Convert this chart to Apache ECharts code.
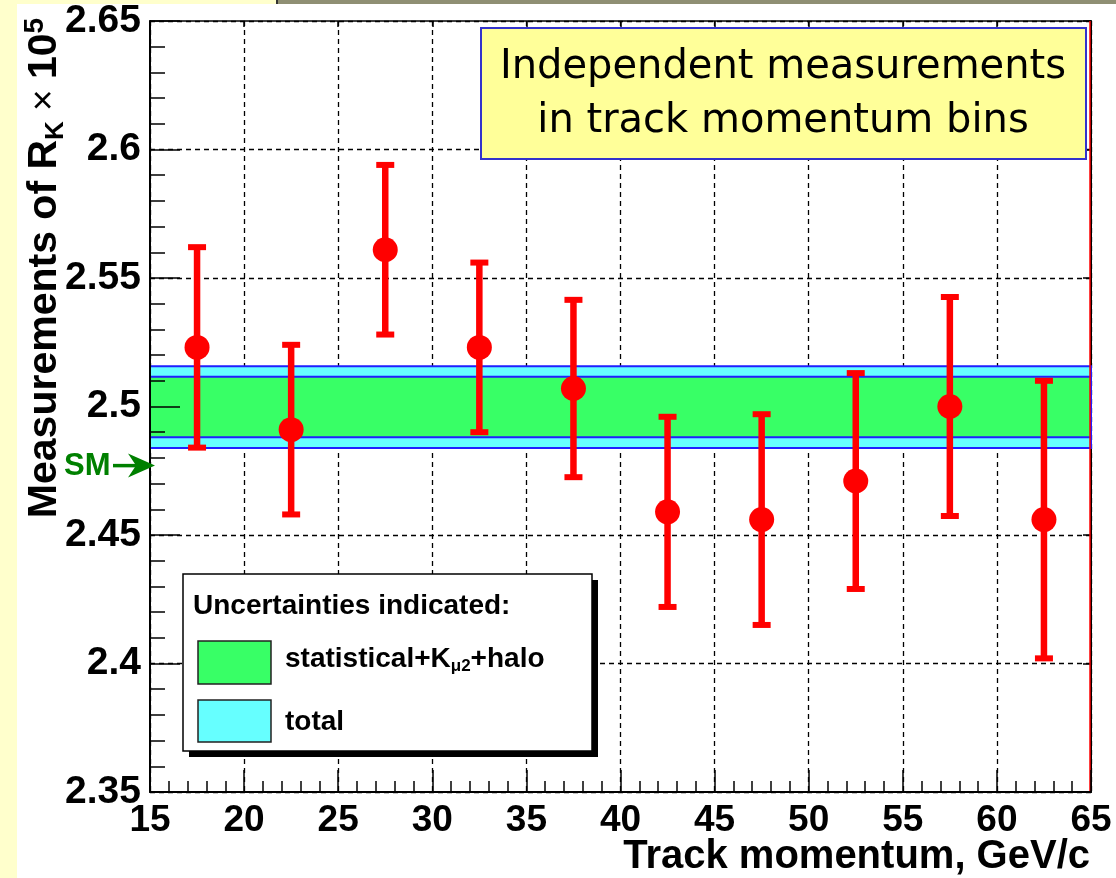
<!DOCTYPE html>
<html><head><meta charset="utf-8">
<script src="https://cdn.jsdelivr.net/npm/echarts@6/dist/echarts.min.js"></script>
<style>html,body{margin:0;padding:0;background:#fff;}#c{width:1116px;height:878px;}</style>
</head><body><div id="c"></div>
<script>
// ---- data ----
const momentum = [17.5, 22.5, 27.5, 32.5, 37.5, 42.5, 47.5, 52.5, 57.5, 62.5];
const rkValues = [2.523, 2.491, 2.561, 2.523, 2.507, 2.459, 2.456, 2.471, 2.500, 2.456];
const rkErrors = [0.039, 0.033, 0.033, 0.033, 0.0345, 0.037, 0.041, 0.042, 0.0426, 0.054];
const bandCentral = 2.4998;
const bandStatErr = 0.0118;
const bandTotalErr = 0.0159;
const smValue = 2.477;
const xTickLabels = ['15','20','25','30','35','40','45','50','55','60','65'];
const yTickLabels = ['2.35','2.4','2.45','2.5','2.55','2.6','2.65'];
const xTitle = 'Track momentum, GeV/c';
const titleLines = ['Independent measurements', 'in track momentum bins'];
const legendTitle = 'Uncertainties indicated:';

const FB = 'Liberation Sans';
const chart = echarts.init(document.getElementById('c'), null, {renderer: 'canvas'});

const xMin = 15, xMax = 65, xStep = 5;
const yMin = 2.35, yMax = 2.65, yStep = 0.05;

function xLab(v){ const i = Math.round((v - xMin) / xStep); return xTickLabels[i] || ''; }
function yLab(v){ const i = Math.round((v - yMin) / yStep); return yTickLabels[i] || ''; }

const option = {
  backgroundColor: '#ffffff',
  animation: false,
  grid: {left: 150, right: 25, top: 21, bottom: 86, containLabel: false, outerBoundsMode: 'none'},
  xAxis: [
    {
      type: 'value', min: xMin, max: xMax, interval: xStep, position: 'bottom', z: 6,
      axisLine: {show: true, onZero: false, lineStyle: {color: '#000', width: 2}},
      axisTick: {show: true, inside: true, length: 22, lineStyle: {color: '#000', width: 1.5}},
      minorTick: {show: true, splitNumber: 5, length: 11, lineStyle: {color: '#000', width: 1.5}},
      axisLabel: {formatter: xLab, fontFamily: FB, fontWeight: 'bold', fontSize: 37, color: '#000', margin: 10, lineHeight: 37},
      splitLine: {show: false}
    },
    {
      type: 'value', min: xMin, max: xMax, interval: xStep, position: 'top', z: 0,
      axisLine: {show: true, onZero: false, lineStyle: {color: '#000', width: 1.5}},
      axisTick: {show: true, inside: true, length: 6, lineStyle: {color: '#000', width: 1.5}},
      axisLabel: {show: false},
      splitLine: {show: true, lineStyle: {color: '#000', width: 1.3, type: [5, 4]}}
    }
  ],
  yAxis: [
    {
      type: 'value', min: yMin, max: yMax, interval: yStep, position: 'left', z: 6,
      axisLine: {show: true, onZero: false, lineStyle: {color: '#000', width: 2}},
      axisTick: {show: true, inside: true, length: 30, lineStyle: {color: '#000', width: 1.5}},
      minorTick: {show: true, splitNumber: 5, length: 15, lineStyle: {color: '#000', width: 1.5}},
      axisLabel: {formatter: yLab, fontFamily: FB, fontWeight: 'bold', fontSize: 39, color: '#000', margin: 9},
      splitLine: {show: false}
    },
    {
      type: 'value', min: yMin, max: yMax, interval: yStep, position: 'right', z: 0,
      axisLine: {show: true, onZero: false, lineStyle: {color: '#000', width: 2}},
      axisTick: {show: true, inside: true, length: 8, lineStyle: {color: '#000', width: 1.5}},
      axisLabel: {show: false},
      splitLine: {show: true, lineStyle: {color: '#000', width: 1.3, type: [5, 4]}}
    }
  ],
  series: [
    {
      type: 'line', xAxisIndex: 0, yAxisIndex: 0, z: 1, silent: true,
      data: [[xMin, bandCentral], [xMax, bandCentral]],
      symbol: 'none', lineStyle: {opacity: 0},
      markArea: {
        silent: true,
        itemStyle: {borderColor: '#1f1fff', borderWidth: 2},
        data: [
          [{yAxis: bandCentral - bandTotalErr, itemStyle: {color: '#66ffff', borderColor: '#1f1fff', borderWidth: 2}}, {yAxis: bandCentral + bandTotalErr}],
          [{yAxis: bandCentral - bandStatErr, itemStyle: {color: '#38ff66', borderColor: '#1f1fff', borderWidth: 2}}, {yAxis: bandCentral + bandStatErr}]
        ]
      },
      markLine: {
        silent: true, symbol: 'none', label: {show: false},
        lineStyle: {color: '#ff0000', width: 1.5, type: 'solid'},
        data: [{xAxis: 64.93}, {yAxis: 2.3507}]
      }
    },
    {
      type: 'custom', xAxisIndex: 0, yAxisIndex: 0, z: 3,
      data: momentum.map((m, i) => [m, rkValues[i], rkErrors[i]]),
      encode: {x: 0, y: 1},
      renderItem: function (params, api) {
        const x = api.value(0), y = api.value(1), e = api.value(2);
        const pc = api.coord([x, y]);
        const pt = api.coord([x, y + e]);
        const pb = api.coord([x, y - e]);
        const red = '#ff0000';
        return {
          type: 'group',
          children: [
            {type: 'line', shape: {x1: pc[0], y1: pt[1], x2: pc[0], y2: pb[1]}, style: {stroke: red, lineWidth: 6.5}},
            {type: 'rect', shape: {x: pc[0] - 9, y: pt[1] - 3, width: 18, height: 6}, style: {fill: red}},
            {type: 'rect', shape: {x: pc[0] - 9, y: pb[1] - 3, width: 18, height: 6}, style: {fill: red}},
            {type: 'circle', shape: {cx: pc[0], cy: pc[1], r: 12.5}, style: {fill: red}}
          ]
        };
      }
    }
  ]
};
chart.setOption(option);

const smY = chart.convertToPixel({yAxisIndex: 0}, smValue);
const axisX = chart.convertToPixel({xAxisIndex: 0}, xMin);
const axisRight = chart.convertToPixel({xAxisIndex: 0}, xMax);
const axisBottom = chart.convertToPixel({yAxisIndex: 0}, yMin);

chart.setOption({
  graphic: [
    {type: 'rect', z: 50, shape: {x: 0, y: 0, width: 17, height: 878}, style: {fill: '#ffffcc'}},
    {type: 'rect', z: 50, shape: {x: 0, y: 0, width: 278, height: 4}, style: {fill: '#ffffcc'}},
    {type: 'rect', z: 50, shape: {x: 278, y: 0, width: 838, height: 4}, style: {fill: '#8f8f73'}},
    {type: 'rect', z: 50, shape: {x: 276, y: 0, width: 2, height: 4}, style: {fill: '#333'}},
    // x axis title
    {type: 'text', z: 62, x: axisRight - 1, y: axisBottom + 65, style: {text: xTitle, fontFamily: FB, fontWeight: 'bold', fontSize: 40, fill: '#000', align: 'right', verticalAlign: 'middle'}},
    // title box
    {type: 'rect', z: 60, shape: {x: 481, y: 28, width: 605, height: 131}, style: {fill: '#ffff99', stroke: '#3333cc', lineWidth: 2}},
    {type: 'text', z: 61, x: 783, y: 95, style: {text: titleLines.join('\n'), fontFamily: 'DejaVu Sans', fontSize: 40, lineHeight: 54, fill: '#000', align: 'center', verticalAlign: 'middle'}},
    // legend box
    {type: 'rect', z: 60, shape: {x: 189, y: 580, width: 409, height: 177}, style: {fill: '#000'}},
    {type: 'rect', z: 61, shape: {x: 183, y: 574, width: 409, height: 177}, style: {fill: '#fff', stroke: '#000', lineWidth: 1.5}},
    {type: 'text', z: 62, x: 193, y: 606, style: {text: legendTitle, fontFamily: FB, fontWeight: 'bold', fontSize: 28, fill: '#000', align: 'left', verticalAlign: 'middle'}},
    {type: 'rect', z: 62, shape: {x: 198, y: 641, width: 73, height: 43}, style: {fill: '#38ff66', stroke: '#222', lineWidth: 1.5}},
    {type: 'rect', z: 62, shape: {x: 198, y: 700, width: 73, height: 42}, style: {fill: '#66ffff', stroke: '#222', lineWidth: 1.5}},
    {type: 'text', z: 62, x: 285, y: 659, style: {
      text: '{a|statistical+K}{s|\u03bc2}{a|+halo}', align: 'left', verticalAlign: 'middle',
      rich: {
        a: {fontFamily: FB, fontWeight: 'bold', fontSize: 28, fill: '#000', color: '#000', lineHeight: 32},
        s: {fontFamily: FB, fontWeight: 'bold', fontSize: 17, fill: '#000', color: '#000', lineHeight: 17, verticalAlign: 'bottom'}
      }}},
    {type: 'text', z: 62, x: 285, y: 722, style: {text: 'total', fontFamily: FB, fontWeight: 'bold', fontSize: 28, fill: '#000', align: 'left', verticalAlign: 'middle'}},
    // SM arrow
    {type: 'text', z: 62, x: 64, y: smY + 1, style: {text: 'SM', fontFamily: FB, fontWeight: 'bold', fontSize: 31, fill: '#008000', align: 'left', verticalAlign: 'middle'}},
    {type: 'line', z: 62, shape: {x1: 113, y1: smY, x2: axisX - 10, y2: smY}, style: {stroke: '#008000', lineWidth: 3.5}},
    {type: 'polygon', z: 62, shape: {points: [[axisX + 5, smY], [axisX - 22, smY - 12], [axisX - 14, smY], [axisX - 22, smY + 12]]}, style: {fill: '#008000'}},
    // Y axis title
    {type: 'text', z: 62, x: 45, y: 268, rotation: Math.PI / 2, style: {
      text: '{b|Measurements of R}{s|K}{x| \u00d7 }{b|10}{p|5}', align: 'center', verticalAlign: 'middle',
      rich: {
        b: {fontFamily: FB, fontWeight: 'bold', fontSize: 41, color: '#000', fill: '#000', lineHeight: 48},
        s: {fontFamily: FB, fontWeight: 'bold', fontSize: 26, color: '#000', fill: '#000', lineHeight: 26, verticalAlign: 'bottom'},
        x: {fontFamily: FB, fontWeight: 'normal', fontSize: 37, color: '#000', fill: '#000', lineHeight: 48},
        p: {fontFamily: FB, fontWeight: 'bold', fontSize: 28, color: '#000', fill: '#000', lineHeight: 28, verticalAlign: 'top'}
      }}}
  ]
});
</script>
</body></html>
